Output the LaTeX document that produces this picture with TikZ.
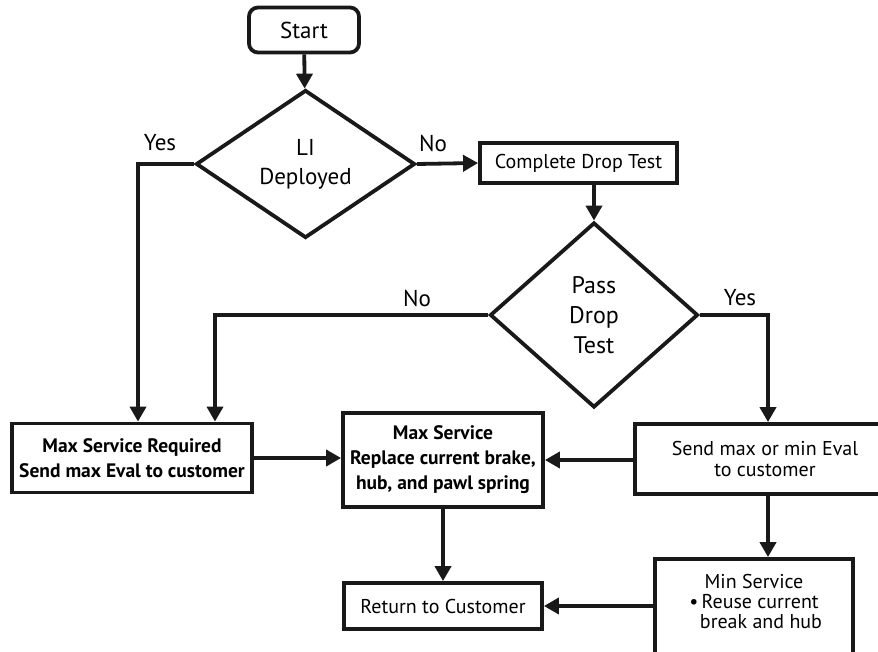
\documentclass[tikz,border=0pt]{standalone}
\usepackage{fontspec}
\setmainfont{PT Sans}
\usetikzlibrary{shapes.geometric,arrows.meta,calc}
\begin{document}
\begin{tikzpicture}[x=1pt,y=-1pt,
  every node/.style={font=\fontsize{20}{21}\selectfont, inner sep=0pt},
  line/.style={line width=3.8pt, draw=black!90},
  arr/.style={line, -{Triangle[length=15pt,width=16pt]}},
  boxnode/.style={draw=black!90, line width=3.8pt, align=center},
  decision/.style={diamond, draw=black!90, line width=3.8pt, align=center, aspect=1},
  lbl/.style={font=\fontsize{23}{25}\selectfont}]
\useasboundingbox (0,0) rectangle (878,652);
\node[boxnode, rounded corners=9pt, minimum width=110pt, minimum height=45pt, font=\fontsize{23}{25}\selectfont] (start) at (304,30) {Start};
\node[decision, minimum width=219pt, minimum height=148pt, font=\fontsize{23}{29}\selectfont] (li) at (305.5,164) {LI\\Deployed};
\node[boxnode, minimum width=197pt, minimum height=40pt] (cdt) at (578.5,163) {Complete Drop Test};
\node[decision, minimum width=208pt, minimum height=185pt, font=\fontsize{24}{30}\selectfont] (pdt) at (594,315) {Pass\\Drop\\Test};
\node[boxnode, minimum width=240pt, minimum height=69pt, font=\bfseries\fontsize{19.5}{25}\selectfont] (msr) at (132,458) {Max Service Required\\Send max Eval to customer};
\node[boxnode, minimum width=200pt, minimum height=94pt, font=\bfseries\fontsize{19.5}{25}\selectfont] (ms) at (443,460) {Max Service\\Replace current brake,\\hub, and pawl spring};
\node[boxnode, minimum width=250pt, minimum height=70pt, font=\fontsize{20}{21}\selectfont] (send) at (760,459) {\hspace*{10pt}Send max or min Eval\\\hspace*{10pt}to customer};
\node[boxnode, minimum width=198pt, minimum height=110pt, font=\fontsize{20}{20}\selectfont] (min) at (754,614) {Min Service\\\textbullet\,Reuse current\\\hspace*{14pt}break and hub\\[6pt]};
\node[boxnode, minimum width=198pt, minimum height=46pt] (ret) at (443,606) {Return to Customer};
\coordinate (yx) at (768,315);
\coordinate (ylx) at (138,164);
\coordinate (nlx) at (215,315);
% labels
\node[lbl] at (160,143) {Yes};
\node[lbl] at (433,143) {No};
\node[lbl] at (417,298) {No};
\node[lbl] at (740,298) {Yes};
% connectors
\draw[arr] (start) -- (li);
\draw[arr] (li.east) -- (cdt.west);
\draw[arr] (cdt.south -| pdt.north) -- (pdt.north);
\draw[arr] (li.west) -- (ylx) -- (ylx |- msr.north);
\draw[arr] (pdt.west) -- (nlx) -- (nlx |- msr.north);
\draw[arr] (pdt.east) -- (yx) -- (yx |- send.north);
\draw[arr] (msr.east) -- (msr.east -| ms.west);
\draw[arr] (send.west |- ms.east) -- (ms.east);
\draw[arr] (yx |- send.south) -- (yx |- min.north);
\draw[arr] (ms.south) -- (ret.north);
\draw[arr] (min.west |- ret.east) -- (ret.east);
\end{tikzpicture}
\end{document}
